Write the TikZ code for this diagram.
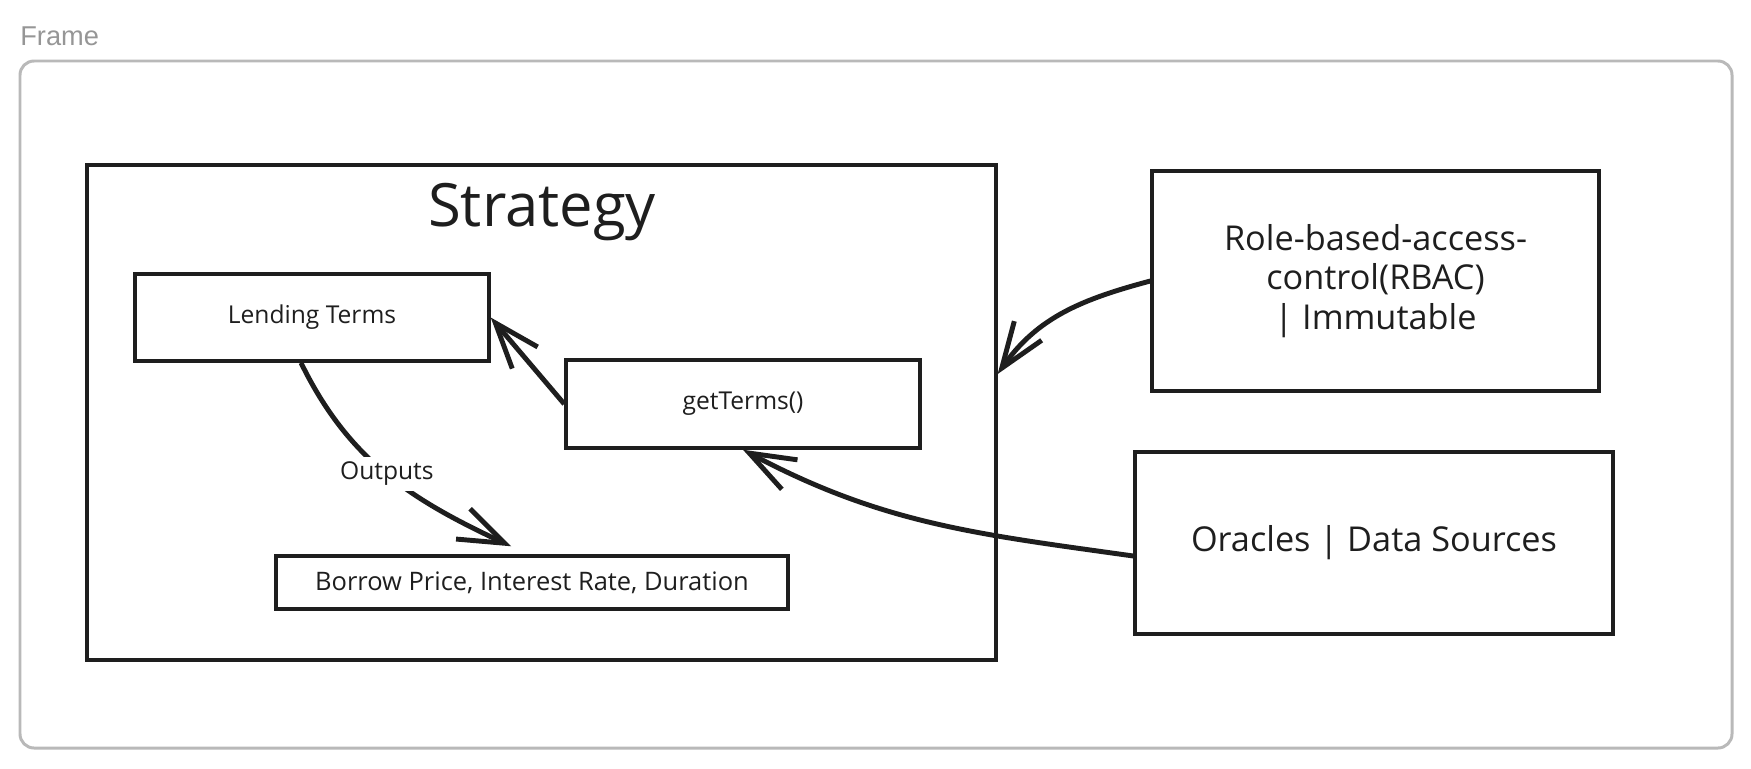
\documentclass[tikz,border=0pt]{standalone}
\usepackage{fontspec}
\setmainfont{Open Sans}
\newfontfamily\framefont{Liberation Sans}
\usetikzlibrary{arrows.meta}
\definecolor{inkcolor}{RGB}{30,30,30}
\definecolor{framegray}{RGB}{185,185,185}
\definecolor{labelgray}{RGB}{150,150,150}

\tikzset{
  block/.style={draw=inkcolor, line width=2pt, text=inkcolor, inner sep=0pt, align=center},
  flow/.style={draw=inkcolor, line width=2.8pt, -{Straight Barb[length=26pt,width=19pt]}},
}

\begin{document}
\begin{tikzpicture}[x=0.02cm, y=-0.02cm]
      \useasboundingbox (0,0) rectangle (1751,768);
      \node[anchor=west, inner sep=0pt, text=labelgray, font=\framefont\fontsize{15.5}{18}\selectfont] (framelabel) at (20,36) {Frame};
      \draw[rounded corners=8pt, line width=1.7pt, framegray] (20,61) rectangle (1732,748);

      \node[block, minimum width=18.18cm, minimum height=9.9cm] (strat) at (541.5,412.5) {};
      \node[text=inkcolor, font=\fontsize{34}{40}\selectfont] (title) at (542,212) {Strategy};

      \node[block, minimum width=7.08cm, minimum height=1.74cm, font=\fontsize{14}{17}\selectfont] (lend) at (312,317.5) {Lending Terms};
      \node[block, minimum width=7.08cm, minimum height=1.76cm, font=\fontsize{14}{17}\selectfont] (get) at (743,404) {getTerms()};
      \node[block, minimum width=10.24cm, minimum height=1.06cm, font=\fontsize{14.5}{17}\selectfont] (borrow) at (532,582.5) {Borrow Price, Interest Rate, Duration};

      \node[block, minimum width=8.94cm, minimum height=4.4cm, font=\fontsize{19.5}{22.5}\selectfont] (rbac) at (1375.5,281) {Role-based-access-\\control(RBAC)\\| Immutable};
      \node[block, minimum width=9.56cm, minimum height=3.64cm, font=\fontsize{19.5}{22.5}\selectfont] (oracles) at (1374,543) {Oracles | Data Sources};

      \draw[flow] (get.west) -- (lend.east);
      \draw[flow] ([xshift=-0.22cm]lend.south) to[out=-64, in=155]
        node[pos=0.5, fill=white, text=inkcolor, inner sep=3pt, font=\fontsize{14}{17}\selectfont] (outlabel) {Outputs}
        ([xshift=-0.42cm, yshift=0.16cm]borrow.north);
      \draw[flow] (rbac.west) to[out=195, in=55] ([yshift=0.77cm]strat.east);
      \draw[flow] ([yshift=-0.26cm]oracles.west) to[out=172, in=-28] (get.south);
    \end{tikzpicture}
\end{document}
